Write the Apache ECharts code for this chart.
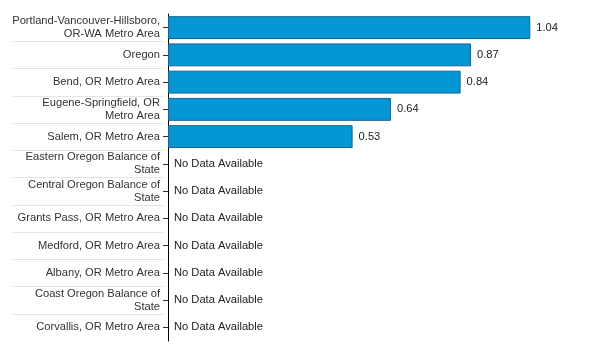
<!DOCTYPE html>
<html>
<head>
<meta charset="utf-8">
<script src="https://cdn.jsdelivr.net/npm/echarts@6/dist/echarts.min.js"></script>
<style>html,body{margin:0;padding:0;background:#fff}#c{width:600px;height:360px}</style>
</head>
<body>
<div id="c"></div>
<script>
const categories = [
  'Portland-Vancouver-Hillsboro,\nOR-WA Metro Area',
  'Oregon',
  'Bend, OR Metro Area',
  'Eugene-Springfield, OR\nMetro Area',
  'Salem, OR Metro Area',
  'Eastern Oregon Balance of\nState',
  'Central Oregon Balance of\nState',
  'Grants Pass, OR Metro Area',
  'Medford, OR Metro Area',
  'Albany, OR Metro Area',
  'Coast Oregon Balance of\nState',
  'Corvallis, OR Metro Area'
];
const values = [1.04, 0.87, 0.84, 0.64, 0.53, null, null, null, null, null, null, null];
const noDataText = 'No Data Available';

const chart = echarts.init(document.getElementById('c'), null, {renderer: 'canvas'});
const font = 'Arial, "Liberation Sans", sans-serif';
const seriesData = values.map(v => v == null
  ? {value: 0, itemStyle: {color: 'transparent', borderWidth: 0}, label: {formatter: noDataText}}
  : {value: v});

chart.setOption({
  animation: false,
  grid: [
    {left: 168, right: 14, top: 14, bottom: 19, containLabel: false},
    {left: 13, width: 150, top: 14, bottom: 19, containLabel: false}
  ],
  xAxis: [
    {type: 'value', gridIndex: 0, min: 0, max: 1.2, show: false},
    {type: 'value', gridIndex: 1, show: false}
  ],
  yAxis: [
    {
      type: 'category', gridIndex: 0, data: categories, inverse: true,
      axisLine: {show: true, lineStyle: {color: '#000', width: 1}},
      axisTick: {show: true, alignWithLabel: true, length: 5, lineStyle: {color: '#333'}},
      axisLabel: {
        margin: 8, color: '#333', fontSize: 11.15, fontFamily: font,
        lineHeight: 13, align: 'right'
      },
      splitLine: {show: false}
    },
    {
      type: 'category', gridIndex: 1, data: categories, inverse: true,
      axisLine: {show: false}, axisTick: {show: false}, axisLabel: {show: false},
      splitLine: {show: true, showMinLine: false, showMaxLine: false, lineStyle: {color: '#e4e4e4', width: 1}}
    }
  ],
  series: [{
    type: 'bar', xAxisIndex: 0, yAxisIndex: 0,
    data: seriesData,
    barCategoryGap: '16%',
    itemStyle: {color: '#0597d5', borderColor: '#17628c', borderWidth: 1},
    label: {
      show: true, position: 'right', distance: 6,
      color: '#222', fontSize: 11.15, fontFamily: font,
      formatter: p => p.value.toFixed(2)
    }
  }]
});
</script>
</body>
</html>
